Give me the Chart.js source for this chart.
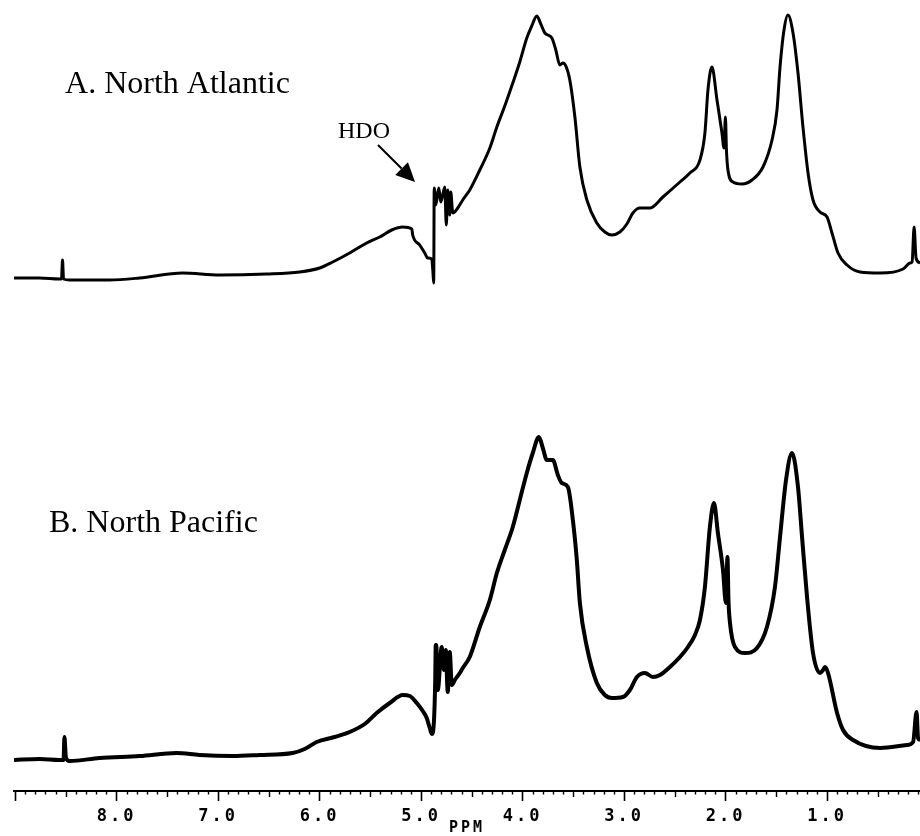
<!DOCTYPE html>
<html>
<head>
<meta charset="utf-8">
<script src="https://cdn.jsdelivr.net/npm/chart.js@4.4.1/dist/chart.umd.min.js"></script>
<style>
  html, body { margin: 0; padding: 0; background: #fff; }
  #wrap { position: relative; width: 920px; height: 836px; }
  canvas { display: block; }
</style>
</head>
<body>
<div id="wrap"><canvas id="c" width="920" height="836"></canvas></div>
<script>
// ---- Data (chemical shift in ppm, relative intensity in arbitrary units) ----
const ppmA = [9.015, 8.759, 8.562, 8.542, 8.532, 8.522, 8.463, 8.266, 8.069, 7.773, 7.349, 6.985, 6.521, 6.196, 5.998, 5.870, 5.703, 5.535, 5.407, 5.289, 5.180, 5.091, 5.082, 5.013, 4.963, 4.934, 4.894, 4.884, 4.875, 4.870, 4.855, 4.825, 4.805, 4.766, 4.751, 4.737, 4.717, 4.707, 4.687, 4.638, 4.589, 4.520, 4.421, 4.322, 4.253, 4.175, 4.096, 4.027, 3.958, 3.909, 3.859, 3.820, 3.780, 3.711, 3.672, 3.632, 3.603, 3.573, 3.534, 3.484, 3.435, 3.366, 3.268, 3.189, 3.120, 3.041, 2.972, 2.913, 2.844, 2.745, 2.617, 2.449, 2.351, 2.252, 2.203, 2.173, 2.134, 2.084, 2.035, 2.015, 2.001, 1.991, 1.976, 1.927, 1.838, 1.739, 1.631, 1.542, 1.493, 1.463, 1.424, 1.385, 1.335, 1.286, 1.237, 1.187, 1.138, 1.069, 1.000, 0.951, 0.892, 0.803, 0.675, 0.477, 0.251, 0.182, 0.162, 0.142, 0.123, 0.083];
const intA = [-1, -1, -2, -2, 17, -2, -3, -3, -3, -1, 4, 2, 3, 5, 9, 15, 24, 34, 40, 47, 50, 48, 42, 32, 24, 19, 18, 7, -6, 89, 72, 89, 75, 90, 52, 87, 62, 85, 64, 69, 77, 87, 107, 129, 150, 171, 194, 215, 239, 251, 261, 253, 244, 239, 227, 212, 214, 211, 197, 160, 110, 77, 54, 45, 42, 45, 53, 64, 69, 69, 80, 95, 104, 117, 144, 187, 210, 177, 144, 129, 160, 127, 107, 95, 93, 97, 110, 137, 167, 210, 247, 262, 244, 204, 150, 104, 77, 65, 60, 44, 24, 12, 5, 4, 8, 14, 15, 50, 19, 14];

const ppmB = [9.015, 8.759, 8.562, 8.522, 8.513, 8.498, 8.463, 8.167, 7.773, 7.408, 7.182, 6.856, 6.590, 6.265, 6.146, 6.028, 5.851, 5.703, 5.555, 5.437, 5.308, 5.180, 5.111, 5.042, 4.983, 4.944, 4.914, 4.894, 4.875, 4.860, 4.855, 4.850, 4.835, 4.796, 4.776, 4.756, 4.737, 4.717, 4.697, 4.667, 4.618, 4.589, 4.520, 4.421, 4.322, 4.253, 4.175, 4.096, 4.027, 3.958, 3.899, 3.839, 3.800, 3.760, 3.701, 3.652, 3.613, 3.553, 3.504, 3.465, 3.435, 3.366, 3.268, 3.189, 3.120, 3.011, 2.942, 2.873, 2.794, 2.715, 2.646, 2.548, 2.449, 2.370, 2.301, 2.252, 2.203, 2.154, 2.114, 2.075, 2.025, 1.996, 1.981, 1.971, 1.956, 1.907, 1.808, 1.690, 1.592, 1.513, 1.463, 1.404, 1.345, 1.286, 1.246, 1.197, 1.138, 1.069, 1.039, 1.020, 0.990, 0.901, 0.842, 0.744, 0.477, 0.211, 0.152, 0.118, 0.103, 0.083];
const intB = [-3, -2, -3, -3, 20, -1, -4, -1, 1, 4, 2, 1, 2, 4, 8, 15, 20, 25, 33, 44, 54, 62, 61, 54, 46, 39, 29, 23, 32, 77, 112, 112, 67, 110, 87, 107, 65, 105, 72, 77, 84, 89, 100, 130, 157, 184, 207, 230, 257, 284, 304, 320, 309, 297, 297, 282, 274, 270, 237, 197, 154, 110, 74, 62, 59, 60, 67, 80, 84, 80, 82, 90, 100, 110, 122, 137, 170, 230, 254, 224, 187, 154, 200, 157, 134, 110, 104, 109, 130, 170, 220, 277, 304, 270, 220, 160, 104, 84, 87, 90, 84, 44, 27, 17, 9, 12, 15, 45, 19, 17];

const seriesNames = ['A. North Atlantic', 'B. North Pacific'];
const majorTicks = [1, 2, 3, 4, 5, 6, 7, 8];
const axisTitle = 'PPM';
const hdoLabel = 'HDO';

// ---- Annotation placement (in data units) ----
const notes = {
  titleA: { x: 8.507, y: 184, axis: 'yA' },
  titleB: { x: 8.665, y: 225, axis: 'yB' },
  hdo:    { x: 5.818, y: 139, axis: 'yA' },
  arrowFrom: { x: 5.424, y: 132, axis: 'yA' },
  arrowTo:   { x: 5.059, y: 95,  axis: 'yA' }
};

const toPts = (xs, ys) => xs.map((x, i) => ({ x: x, y: ys[i] }));

const minorTicksPlugin = {
  id: 'minorTicks',
  beforeDraw(chart) {
    chart.ctx.letterSpacing = '3px';
  },
  afterDraw(chart) {
    const ctx = chart.ctx;
    const xs = chart.scales.x;
    const y0 = chart.chartArea.bottom;
    ctx.save();
    ctx.letterSpacing = '0px';
    ctx.strokeStyle = '#000';
    ctx.lineWidth = 1.4;
    ctx.beginPath();
    for (let i = 1; i <= 90; i++) {
      if (i % 10 === 0) continue;
      const v = i / 10;
      if (v < xs.min || v > xs.max) continue;
      const px = Math.round(xs.getPixelForValue(v)) + 0.5;
      const len = (i % 5 === 0) ? 6 : 3.5;
      ctx.moveTo(px, y0);
      ctx.lineTo(px, y0 + len);
    }
    ctx.stroke();
    ctx.restore();
  },
  afterDatasetsDraw(chart) {
    const ctx = chart.ctx;
    const xs = chart.scales.x;
    const P = (n) => [xs.getPixelForValue(n.x), chart.scales[n.axis].getPixelForValue(n.y)];
    ctx.save();
    ctx.letterSpacing = '0px';
    ctx.fillStyle = '#000';
    ctx.strokeStyle = '#000';
    ctx.textAlign = 'left';
    ctx.textBaseline = 'alphabetic';
    ctx.font = '32px "Liberation Serif", "Times New Roman", serif';
    let p = P(notes.titleA); ctx.fillText(seriesNames[0], p[0], p[1]);
    p = P(notes.titleB); ctx.fillText(seriesNames[1], p[0], p[1]);
    ctx.font = '24px "Liberation Serif", "Times New Roman", serif';
    p = P(notes.hdo); ctx.fillText(hdoLabel, p[0], p[1]);
    // arrow
    const a = P(notes.arrowFrom), b = P(notes.arrowTo);
    const ang = Math.atan2(b[1] - a[1], b[0] - a[0]);
    const headLen = 19, headW = 9;
    const bx = b[0] - headLen * Math.cos(ang), by = b[1] - headLen * Math.sin(ang);
    ctx.lineWidth = 2;
    ctx.beginPath(); ctx.moveTo(a[0], a[1]); ctx.lineTo(bx, by); ctx.stroke();
    ctx.beginPath();
    ctx.moveTo(b[0], b[1]);
    ctx.lineTo(bx + headW * Math.sin(ang), by - headW * Math.cos(ang));
    ctx.lineTo(bx - headW * Math.sin(ang), by + headW * Math.cos(ang));
    ctx.closePath(); ctx.fill();
    ctx.restore();
  }
};

new Chart(document.getElementById('c'), {
  type: 'line',
  data: {
    datasets: [
      { label: seriesNames[0], data: toPts(ppmA, intA), yAxisID: 'yA',
        borderColor: '#000', borderWidth: 3, pointRadius: 0, cubicInterpolationMode: 'monotone',
        borderJoinStyle: 'round', fill: false },
      { label: seriesNames[1], data: toPts(ppmB, intB), yAxisID: 'yB',
        borderColor: '#000', borderWidth: 4, pointRadius: 0, cubicInterpolationMode: 'monotone',
        borderJoinStyle: 'round', fill: false }
    ]
  },
  options: {
    responsive: false,
    animation: false,
    devicePixelRatio: 1,
    layout: { padding: { left: 14, right: 0, top: 0, bottom: 0 } },
    plugins: { legend: { display: false }, tooltip: { enabled: false }, title: { display: false } },
    scales: {
      x: {
        type: 'linear', position: 'bottom', reverse: true, min: 0.084, max: 9.01,
        border: { display: true, color: '#000', width: 2 },
        grid: { drawOnChartArea: false, drawTicks: true, tickLength: 10, color: '#000', tickWidth: 1.6 },
        ticks: {
          stepSize: 1, includeBounds: false, autoSkip: false, maxRotation: 0, minRotation: 0,
          padding: 5, color: '#000',
          font: { family: '"DejaVu Sans Mono", monospace', size: 17, weight: 'bold' },
          callback: (v) => majorTicks.includes(v) ? v.toFixed(1) : ''
        },
        title: { display: true, text: axisTitle, color: '#000', align: 'center',
                 padding: { top: 0, bottom: 0 },
                 font: { family: '"DejaVu Sans Mono", monospace', size: 15, weight: 'bold', lineHeight: 1 } },
        afterFit: (s) => { s.height = 45; s.paddingLeft = 0; s.paddingRight = 0; }
      },
      yA: { type: 'linear', display: false, min: -514, max: 277 },
      yB: { type: 'linear', display: false, min: -34, max: 757 }
    }
  },
  plugins: [minorTicksPlugin]
});
</script>
</body>
</html>
